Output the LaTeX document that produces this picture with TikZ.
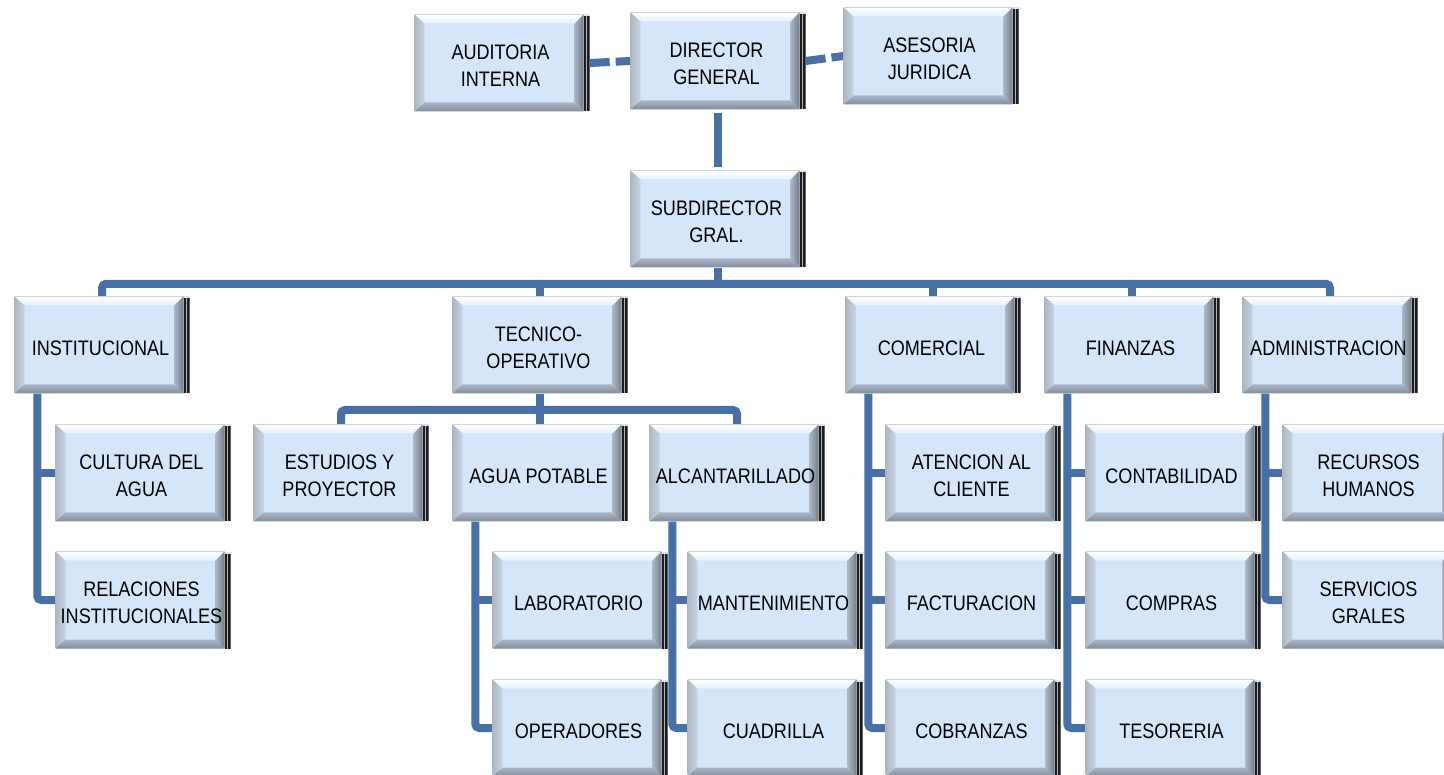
\documentclass[tikz,border=0pt]{standalone}
\usepackage{fontspec}
\newfontfamily\unitfont[FakeStretch=0.86]{Liberation Sans}
\usetikzlibrary{backgrounds,calc}

\definecolor{face}{HTML}{D5E5FA}
\definecolor{linkblue}{HTML}{4670A6}
\definecolor{bevleft}{HTML}{AEB6C0}
\definecolor{bevbot}{HTML}{838D9B}
\definecolor{bevright}{HTML}{747D89}
\definecolor{edgedark}{HTML}{1C1C1C}

% label set in strut-high rows, sitting a little low and left on the face
\newcommand\utext[1]{\raisebox{0pt}[\dimexpr\height+10pt\relax][\depth]{%
  \begin{tabular}{@{}c@{\hspace{3pt}}}#1\end{tabular}}}

\tikzset{
  unit/.style={rectangle, inner sep=0pt, minimum width=175pt, minimum height=97pt,
    fill=face, font=\unitfont\fontsize{21}{27}\selectfont,
    path picture={
      \path (path picture bounding box.north west) coordinate (q1)
            (path picture bounding box.north east) coordinate (q2)
            (path picture bounding box.south east) coordinate (q3)
            (path picture bounding box.south west) coordinate (q4);
      \coordinate (r2) at ($(q2)+(-6pt,0pt)$);
      \coordinate (r3) at ($(q3)+(-6pt,0pt)$);
      \coordinate (i1) at ($(q1)+(10pt,-9pt)$);
      \coordinate (i2) at ($(r2)+(-9pt,-9pt)$);
      \coordinate (i3) at ($(r3)+(-9pt,9pt)$);
      \coordinate (i4) at ($(q4)+(10pt,9pt)$);
      % bevelled rim of the button
      \shade[top color=white, bottom color=face!60!white] (q1) -- (r2) -- (i2) -- (i1) -- cycle;
      \shade[left color=bevleft, right color=bevleft!35!face] (q1) -- (i1) -- (i4) -- (q4) -- cycle;
      \shade[top color=bevbot!55!face, bottom color=bevbot] (q4) -- (i4) -- (i3) -- (r3) -- cycle;
      \shade[left color=bevright!45!face, right color=bevright] (r2) -- (r3) -- (i3) -- (i2) -- cycle;
      % dark double edge on the right
      \fill[edgedark] ($(r2)+(0pt,-2pt)$) rectangle (q3);
      \fill[gray!60] ($(r2)+(2.2pt,-2pt)$) rectangle ($(r3)+(3.4pt,0pt)$);
      \draw[gray!35, line width=0.8pt] (q1) -- (r2);
    }},
  link/.style={draw=linkblue, line width=8pt},
  dashlink/.style={link, dash pattern=on 20pt off 6pt},
}

\begin{document}
\begin{tikzpicture}[x=1pt, y=-1pt]
\useasboundingbox (0,0) rectangle (1444,775);
\clip (0,0) rectangle (1444,775);

% top management
\node[unit] (aud) at (502,63)  {\utext{AUDITORIA\\INTERNA}};
\node[unit] (dir) at (718,61)  {\utext{DIRECTOR\\GENERAL}};
\node[unit] (ase) at (931,56)  {\utext{ASESORIA\\JURIDICA}};
\node[unit] (sub) at (718,219) {\utext{SUBDIRECTOR\\GRAL.}};

% areas
\node[unit] (inst) at (102,345)  {\utext{INSTITUCIONAL}};
\node[unit] (tec)  at (540,345)  {\utext{TECNICO-\\OPERATIVO}};
\node[unit] (com)  at (933,345)  {\utext{COMERCIAL}};
\node[unit] (fin)  at (1132,345) {\utext{FINANZAS}};
\node[unit] (adm)  at (1330,345) {\utext{ADMINISTRACION}};

% departments
\node[unit] (cul) at (143,473)  {\utext{CULTURA DEL\\AGUA}};
\node[unit] (rel) at (143,600)  {\utext{RELACIONES\\INSTITUCIONALES}};
\node[unit] (est) at (341,473)  {\utext{ESTUDIOS Y\\PROYECTOR}};
\node[unit] (agu) at (540,473)  {\utext{AGUA POTABLE}};
\node[unit] (alc) at (737,473)  {\utext{ALCANTARILLADO}};
\node[unit] (lab) at (580,600)  {\utext{LABORATORIO}};
\node[unit] (ope) at (580,728)  {\utext{OPERADORES}};
\node[unit] (man) at (775,600)  {\utext{MANTENIMIENTO}};
\node[unit] (cua) at (775,728)  {\utext{CUADRILLA}};
\node[unit] (ate) at (973,473)  {\utext{ATENCION AL\\CLIENTE}};
\node[unit] (fac) at (973,600)  {\utext{FACTURACION}};
\node[unit] (cob) at (973,728)  {\utext{COBRANZAS}};
\node[unit] (con) at (1173,473) {\utext{CONTABILIDAD}};
\node[unit] (cmp) at (1173,600) {\utext{COMPRAS}};
\node[unit] (tes) at (1173,728) {\utext{TESORERIA}};
\node[unit] (rec) at (1370,473) {\utext{RECURSOS\\HUMANOS}};
\node[unit] (ser) at (1370,600) {\utext{SERVICIOS\\GRALES}};

% trunk positions of the vertical branch lines
\coordinate (bus)  at (718,284);
\coordinate (tbus) at (540,410);
\foreach \p in {inst,agu,alc,com,fin,adm}
  \coordinate (\p-t) at ([xshift=23pt]\p.south west);

\begin{scope}[on background layer]
  \fill[white] (0,0) rectangle (1444,775);

  \draw[dashlink] (aud.east) -- (dir.west);
  \draw[dashlink] (dir.east) -- (ase.west);
  \draw[link, shorten <=3pt, shorten >=3pt] (dir.south) -- (sub.north);

  % main bus
  \draw[link, rounded corners=4pt] (inst.north) |- (bus) -| (adm.north);
  \draw[link] (sub.south) -- (bus);
  \foreach \n in {tec,com,fin}
    \draw[link] (\n.north) -- (\n.north |- bus);

  % technical bus
  \draw[link, rounded corners=4pt] (est.north) |- (tbus) -| (alc.north);
  \draw[link] (tec.south) -- (agu.north);

  % vertical branches
  \foreach \p/\first/\last in {inst/cul/rel, agu/lab/ope, alc/man/cua,
                               com/ate/cob, fin/con/tes, adm/rec/ser}{
    \draw[link, rounded corners=4pt] (\p-t) |- (\last.west);
    \draw[link] (\first.west) -- (\first.west -| \p-t);
  }
  \foreach \c/\p in {fac/com, cmp/fin}
    \draw[link] (\c.west) -- (\c.west -| \p-t);
\end{scope}
\end{tikzpicture}
\end{document}
